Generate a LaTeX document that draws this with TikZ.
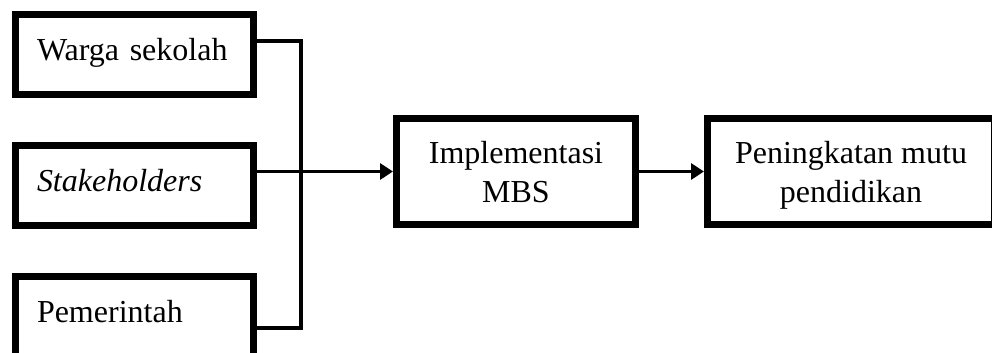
\documentclass[tikz,border=0pt]{standalone}
\usepackage{fontspec}
\setmainfont{Liberation Serif}
\usetikzlibrary{arrows.meta}

\tikzset{
  box/.style={draw=black, line width=3.5pt, rectangle, inner sep=0pt,
    font=\fontsize{16pt}{19.5pt}\selectfont},
  leftbox/.style={box, minimum width=119pt, minimum height=40pt,
    text width=97.5pt, align=left, text height=11pt, text depth=5pt},
  rightbox/.style={box, minimum height=53pt, align=center, text depth=0pt},
  bracket/.style={draw=black, line width=2pt},
  flow/.style={draw=black, line width=1.6pt, -{Triangle[length=6.5pt,width=8pt]}}
}

\begin{document}
\begin{tikzpicture}[x=0.5pt, y=-0.5pt]
  % page frame (pixel grid, y downwards)
  \path[use as bounding box, clip] (0,0) rectangle (992,353);
  \fill[white] (0,0) rectangle (992,353);

  % input boxes
  \node[leftbox] (w) at (134.5,55)    {Warga sekolah};
  \node[leftbox] (s) at (134.5,185.5) {\textit{Stakeholders}};
  \node[leftbox] (p) at (134.5,316.5) {Pemerintah};

  % process and outcome
  \node[rightbox, minimum width=119.5pt] (m) at (516,171.5) {Implementasi\\MBS};
  \node[rightbox, minimum width=143.5pt] (n) at (851,171.5) {Peningkatan mutu\\pendidikan};

  % bracket joining the outer inputs
  \coordinate (jt) at (301,41);
  \coordinate (jb) at (301,328);
  \draw[bracket] (w.east |- jt) -- (jt) -- (jb) -- (p.east |- jb);

  % arrows
  \draw[flow] (s.east |- m.west) -- (m.west);
  \draw[flow] (m.east) -- (n.west);
\end{tikzpicture}
\end{document}
